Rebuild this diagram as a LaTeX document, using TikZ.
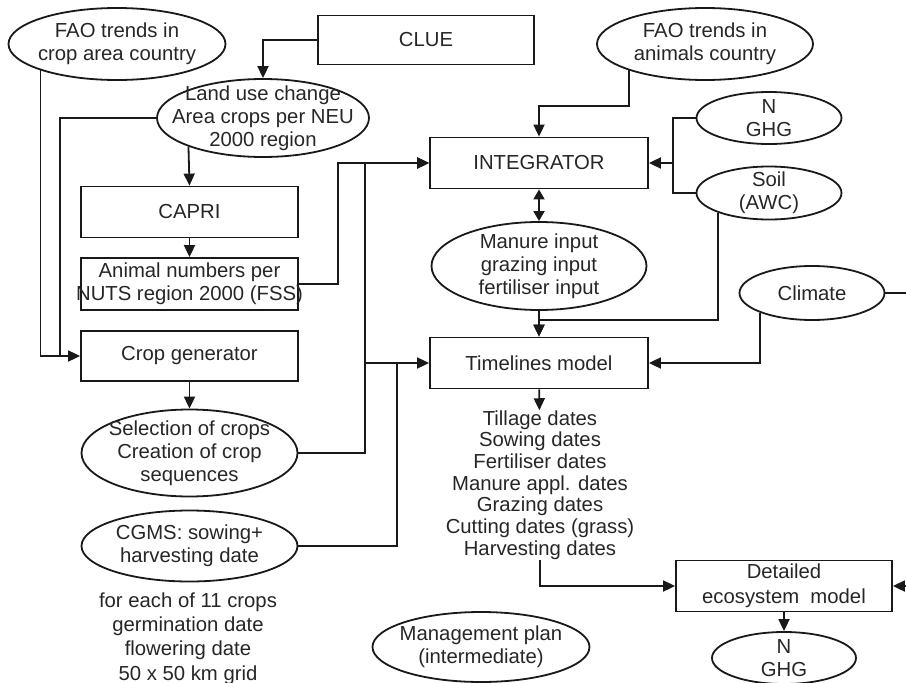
\documentclass[tikz,border=0pt]{standalone}
\usepackage{fontspec}
\setmainfont{Liberation Sans}
\usetikzlibrary{arrows.meta,shapes.geometric}

\begin{document}
\begin{tikzpicture}[
    x=1pt, y=-1pt,
    font=\fontsize{20.3}{23}\selectfont,
    every node/.style={text=black!85},
    box/.style={rectangle, draw=black!90, line width=1.8pt, minimum width=217pt, minimum height=51pt, inner sep=0pt, align=center},
    oval/.style={ellipse, draw=black!90, line width=1.8pt, minimum width=216pt, minimum height=72pt, inner sep=0pt},
    small/.style={minimum width=145pt, minimum height=53pt},
    txt/.style={align=center, inner sep=0pt},
    arrow/.style={-{Triangle[length=12pt,width=11pt]}, line width=1.8pt, draw=black!90},
    dbl/.style={{Triangle[length=10pt,width=11pt]}-{Triangle[length=10pt,width=11pt]}, line width=1.8pt, draw=black!90},
    line/.style={line width=1.8pt, draw=black!90}
]
    \useasboundingbox (0,0) rectangle (906,683);

    % Left column
    \node[oval, minimum width=217pt, label={[txt]center:{FAO trends in\\crop area country}}] (faoc) at (117,44) {};
    \node[box, minimum width=216pt, minimum height=49pt] (clue) at (426,40) {CLUE};
    \node[oval, minimum width=212pt, minimum height=78pt, label={[txt]center:{Land use change\\Area crops per NEU\\2000 region}}] (luc) at (263,118) {};
    \node[box] (capri) at (189.5,212) {CAPRI};
    \node[box, minimum height=52pt, label={[txt]center:{Animal numbers per\\NUTS region 2000 (FSS)}}] (animal) at (189.5,284) {};
    \node[box, minimum height=50pt] (cgen) at (189.5,356) {Crop generator};
    \node[oval, minimum height=87pt, label={[txt]center:{Selection of crops\\Creation of crop\\sequences}}] (sel) at (189.5,453) {};
    \node[oval, minimum height=71pt, label={[txt]center:{CGMS: sowing+\\harvesting date}}] (cgms) at (189.5,546) {};
    \node[txt, font=\fontsize{20.3}{24.3}\selectfont] (grid) at (188,638.5) {for each of 11 crops\\germination date\\flowering date\\50 x 50 km grid};

    % Right column
    \node[oval, label={[txt]center:{FAO trends in\\animals country}}] (faoa) at (705,44) {};
    \node[box, minimum width=218pt] (intg) at (539,163) {INTEGRATOR};
    \node[oval, small, minimum height=52pt, label={[txt]center:{N\\GHG}}] (ngt) at (769,118) {};
    \node[oval, small, label={[txt]center:{Soil\\(AWC)}}] (soil) at (769,193) {};
    \node[oval, minimum width=215pt, minimum height=88pt, label={[txt]center:{Manure input\\grazing input\\fertiliser input}}] (man) at (539,266) {};
    \node[box, minimum width=218pt] (tl) at (539,363) {Timelines model};
    \node[oval, small, minimum height=54pt, label={[txt]center:Climate}] (clim) at (812,293) {};
    \node[txt, font=\fontsize{20.3}{21.7}\selectfont] (dates) at (540,485) {Tillage dates\\Sowing dates\\Fertiliser dates\\Manure appl. dates\\Grazing dates\\Cutting dates (grass)\\Harvesting dates};
    \node[box, minimum width=216pt, font=\fontsize{20.3}{25}\selectfont] (eco) at (784,586) {Detailed\\ecosystem\ \ model};
    \node[oval, minimum width=217pt, minimum height=70pt, label={[txt]center:{Management plan\\(intermediate)}}] (mgmt) at (481,647) {};
    \node[oval, small, minimum width=144pt, minimum height=52pt, label={[txt]center:{N\\GHG}}] (ngb) at (784,658) {};

    % Junctions
    \coordinate (jc) at (60,356);
    \coordinate (ja) at (338,163);
    \coordinate (jb) at (365,163);
    \coordinate (jh) at (365,363);
    \coordinate (jd) at (397,363);
    \coordinate (jf) at (673,163);
    \coordinate (jg) at (539,320);
    \coordinate (climout) at (912,293);
    \coordinate (ecoin) at (912,586);

    % Arrows left
    \draw[arrow] (clue.west) -| (luc.north);
    \draw[arrow] (faoc.199) |- (cgen.west);
    \draw[line] (luc.west) -| (jc);
    \draw[arrow] (luc.201) -- (capri.north);
    \draw[arrow] (capri) -- (animal);
    \draw[arrow] (animal.east) -| (ja) -- (intg.west);
    \draw[arrow] (cgen) -- (sel);
    \draw[arrow] (sel.east) -| (jb) -- (intg.west);
    \draw[arrow] (jh) -- (tl.west);
    \draw[line] (cgms.east) -| (jd);

    % Arrows right
    \draw[arrow] (faoa.199) -- ++(0,36) -| (intg.north);
    \draw[line] (ngt.west) -| (jf) |- (soil.west);
    \draw[arrow] (jf) -- (intg.east);
    \draw[dbl] (intg) -- (man);
    \draw[arrow] (soil.201) |- (jg) -- (tl.north);
    \draw[arrow] (man) -- (tl);
    \draw[line] (clim.east) -- (climout);
    \draw[arrow] (clim.201) |- (tl.east);
    \draw[arrow] (tl) -- (dates);
    \draw[arrow] (dates.south) |- (eco.west);
    \draw[arrow] (ecoin) -- (eco.east);
    \draw[arrow] (eco) -- (ngb);

\end{tikzpicture}
\end{document}
